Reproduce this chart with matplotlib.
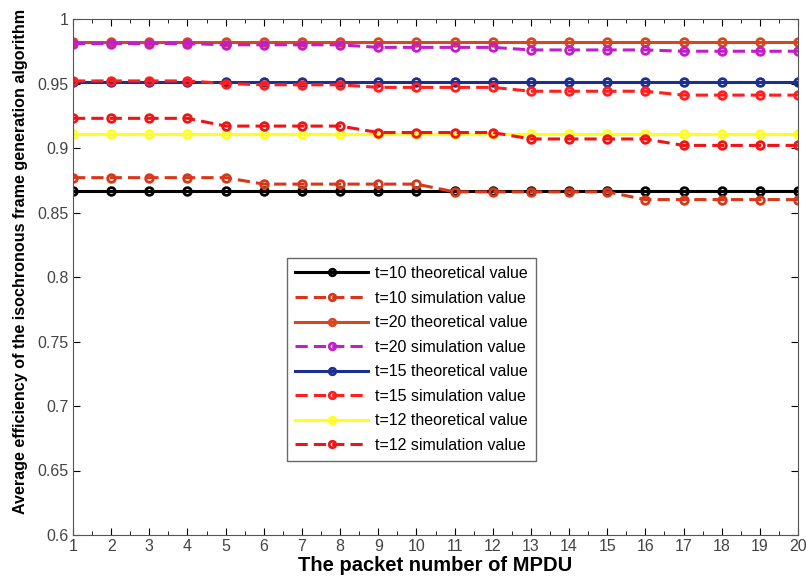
import matplotlib
matplotlib.use('Agg')
import matplotlib.pyplot as plt
import numpy as np

plt.rcParams['font.family'] = ['Liberation Sans', 'DejaVu Sans']

packets = list(range(1, 21))

t10_theory = [0.867] * 20
t10_sim = [0.877, 0.877, 0.877, 0.877, 0.877, 0.872, 0.872, 0.872, 0.872, 0.872,
           0.866, 0.866, 0.866, 0.866, 0.866, 0.860, 0.860, 0.860, 0.860, 0.860]
t20_theory = [0.982] * 20
t20_sim = [0.981, 0.981, 0.981, 0.981, 0.980, 0.980, 0.980, 0.980, 0.978, 0.978,
           0.978, 0.978, 0.976, 0.976, 0.976, 0.976, 0.975, 0.975, 0.975, 0.975]
t15_theory = [0.951] * 20
t15_sim = [0.952, 0.952, 0.952, 0.952, 0.950, 0.949, 0.949, 0.949, 0.947, 0.947,
           0.947, 0.947, 0.944, 0.944, 0.944, 0.944, 0.941, 0.941, 0.941, 0.941]
t12_theory = [0.911] * 20
t12_sim = [0.923, 0.923, 0.923, 0.923, 0.917, 0.917, 0.917, 0.917, 0.912, 0.912,
           0.912, 0.912, 0.907, 0.907, 0.907, 0.907, 0.902, 0.902, 0.902, 0.902]

series = [
    (t10_theory, '-', '#000000', 't=10 theoretical value'),
    (t10_sim, '--', '#d8381a', 't=10 simulation value'),
    (t20_theory, '-', '#d8461f', 't=20 theoretical value'),
    (t20_sim, '--', '#c21ec8', 't=20 simulation value'),
    (t15_theory, '-', '#1c2e90', 't=15 theoretical value'),
    (t15_sim, '--', '#ff1f1f', 't=15 simulation value'),
    (t12_theory, '-', '#ffff1a', 't=12 theoretical value'),
    (t12_sim, '--', '#f01414', 't=12 simulation value'),
]

fig = plt.figure(figsize=(8.06, 5.87), dpi=100)
ax = fig.add_axes([73/806, 1-535/587, (798-73)/806, (535-19)/587])

for vals, ls, col, lab in series:
    ax.plot(packets, vals, linestyle=ls, color=col, linewidth=2.2,
            marker='o', markersize=5.5, markerfacecolor='none',
            markeredgewidth=2, label=lab, dashes=(4, 2) if ls == '--' else (None, None))

ax.set_xlim(1, 20)
ax.set_ylim(0.6, 1.0)
ax.set_xticks(packets)
ax.set_xticks(np.arange(1.5, 20, 1), minor=True)
ax.set_yticks(np.arange(0.6, 1.001, 0.05))
ax.set_yticklabels(['0.6', '0.65', '0.7', '0.75', '0.8', '0.85', '0.9', '0.95', '1'])
ax.tick_params(direction='in', top=True, right=True, labelsize=11.5,
               labelcolor='#444444', length=5, pad=3)
ax.tick_params(which='minor', direction='in', top=True, right=False, length=3)
for s in ax.spines.values():
    s.set_color('#555555')

ax.set_xlabel('The packet number of MPDU', fontsize=14.5, fontweight='bold', labelpad=1)
ax.set_ylabel('Average efficiency of the isochronous frame generation algorithm',
              fontsize=11.6, fontweight='bold')
ax.yaxis.set_label_coords(-0.062, 0.53)

leg = ax.legend(loc='upper left', bbox_to_anchor=(287/806, 1-258/587),
                bbox_transform=fig.transFigure, borderaxespad=0,
                fontsize=11.5, frameon=True, fancybox=False, edgecolor='#444444',
                handlelength=4.6, handletextpad=0.4, labelspacing=0.6,
                borderpad=0.5, markerscale=0.85)
leg.get_frame().set_linewidth(1.0)

plt.savefig('out.png', dpi=100)
